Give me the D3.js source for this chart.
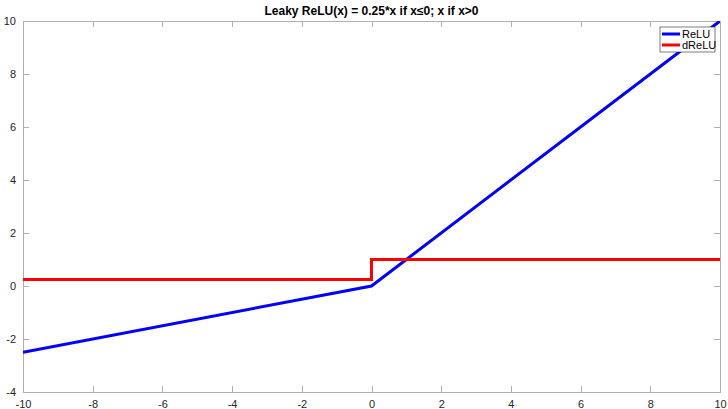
<!DOCTYPE html>
<html><head><meta charset="utf-8">
<script src="https://cdn.jsdelivr.net/npm/d3@7"></script>
<style>
body{margin:0;background:#fff;}
svg{display:block;font-family:"Liberation Sans",Arial,Helvetica,sans-serif;}
</style>
</head><body>
<svg id="c" width="728" height="409"></svg>
<script>
const reluX = [-10, 0, 10];
const reluY = [-2.5, 0, 10];
const dreluX = [-10, 0, 0, 10];
const dreluY = [0.25, 0.25, 1, 1];
const xTicks = [-10, -8, -6, -4, -2, 0, 2, 4, 6, 8, 10];
const yTicks = [-4, -2, 0, 2, 4, 6, 8, 10];
const seriesNames = ["ReLU", "dReLU"];
const seriesColors = ["#0000ff", "#ff0000"];
const title = "Leaky ReLU(x) = 0.25*x if x\u22640; x if x>0";

const svg = d3.select("#c");
const L = 23, R = 720, T = 21, B = 392;
const x = d3.scaleLinear().domain([-10, 10]).range([L, R]);
const y = d3.scaleLinear().domain([-4, 10]).range([B, T]);
const axisColor = "#b0b0b0";
const tickLen = 6;
const fmt = d => String(d);

svg.append("rect").attr("x", L).attr("y", T).attr("width", R - L).attr("height", B - T)
  .attr("fill", "#fff").attr("stroke", axisColor).attr("stroke-width", 1).attr("shape-rendering","crispEdges");

function styleAxis(g){
  g.select(".domain").remove();
  g.selectAll(".tick line").attr("stroke", axisColor).attr("shape-rendering","crispEdges");
  g.selectAll(".tick text").attr("fill", "#262626").attr("font-size", "11px")
   .attr("font-family", '"Liberation Sans",Arial,sans-serif');
}
svg.append("g").attr("transform", `translate(0,${B})`)
  .call(d3.axisBottom(x).tickValues(xTicks).tickSizeInner(-tickLen).tickSizeOuter(0).tickPadding(8).tickFormat(fmt))
  .call(styleAxis);
svg.append("g").attr("transform", `translate(0,${T})`)
  .call(d3.axisTop(x).tickValues(xTicks).tickSizeInner(-tickLen).tickSizeOuter(0).tickFormat(""))
  .call(styleAxis);
svg.append("g").attr("transform", `translate(${L},0)`)
  .call(d3.axisLeft(y).tickValues(yTicks).tickSizeInner(-tickLen).tickSizeOuter(0).tickPadding(7).tickFormat(fmt))
  .call(styleAxis);
svg.append("g").attr("transform", `translate(${R},0)`)
  .call(d3.axisRight(y).tickValues(yTicks).tickSizeInner(-tickLen).tickSizeOuter(0).tickFormat(""))
  .call(styleAxis);

svg.append("clipPath").attr("id","clp").append("rect")
  .attr("x", L).attr("y", T).attr("width", R-L).attr("height", B-T);

const line = d3.line().x(d => x(d[0])).y(d => y(d[1]));
const g = svg.append("g").attr("clip-path","url(#clp)");
g.append("path").datum(d3.zip(reluX, reluY)).attr("d", line)
  .attr("fill","none").attr("stroke", seriesColors[0]).attr("stroke-width", 3);
g.append("path").datum(d3.zip(dreluX, dreluY)).attr("d", line)
  .attr("fill","none").attr("stroke", seriesColors[1]).attr("stroke-width", 3);

svg.append("text").attr("x", (L + R) / 2).attr("y", 15).attr("text-anchor","middle")
  .attr("font-size","12px").attr("font-weight","bold").attr("fill","#000").text(title);

const lg = svg.append("g");
lg.append("rect").attr("x", 660).attr("y", 27).attr("width", 55).attr("height", 25)
  .attr("fill","#fff").attr("stroke", "#262626").attr("stroke-width", 0.6);
seriesNames.forEach((n,i) => {
  const yy = 34 + i * 11;
  lg.append("line").attr("x1", 662).attr("x2", 680).attr("y1", yy).attr("y2", yy)
    .attr("stroke", seriesColors[i]).attr("stroke-width", 3);
  lg.append("text").attr("x", 682).attr("y", yy + 4).attr("font-size","11px")
    .attr("fill","#000").text(n);
});
</script>
</body></html>
